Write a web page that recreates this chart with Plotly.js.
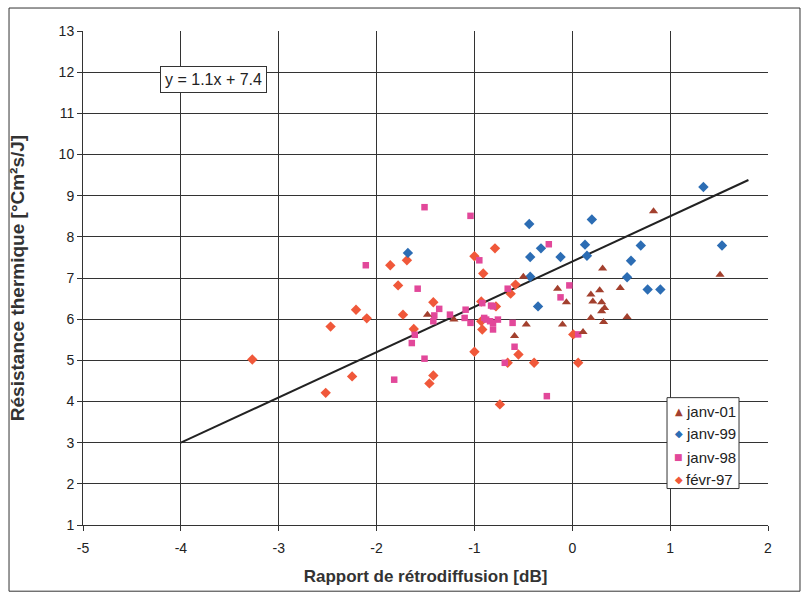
<!DOCTYPE html>
<html><head><meta charset="utf-8">
<script src="https://cdn.plot.ly/plotly-3.0.1.min.js"></script>
<style>html,body{margin:0;padding:0;background:#fff}#chart{width:807px;height:603px}</style>
</head><body><div id="chart"></div>
<script>
// janv-01 (triangles)
const j01X = [-1.48,-0.50,-0.15,-0.06,0.19,0.28,0.31,0.49,0.21,0.30,0.33,0.30,0.19,0.32,0.56,-0.47,-0.10,0.11,-0.59,0.83,1.51,-1.21];
const j01Y = [6.11,7.03,6.74,6.41,6.60,6.70,7.23,6.76,6.43,6.41,6.27,6.19,6.03,5.93,6.05,5.87,5.87,5.69,5.59,8.62,7.08,5.99];
// janv-99 (blue diamonds)
const j99X = [-1.68,-0.44,0.20,-0.32,-0.43,-0.12,0.13,0.15,-0.43,-0.35,1.34,0.70,1.53,0.60,0.56,0.77,0.90];
const j99Y = [7.61,8.31,8.42,7.72,7.51,7.51,7.81,7.54,7.03,6.31,9.21,7.79,7.79,7.42,7.02,6.72,6.72];
// janv-98 (pink squares)
const j98X = [-2.11,-1.51,-1.04,-0.95,-1.58,-1.36,-1.41,-1.42,-1.25,-1.09,-1.10,-1.04,-0.90,-0.84,-0.81,-0.81,-0.76,-0.88,-0.81,-1.61,-1.64,-1.51,-1.82,-0.24,-0.66,-0.03,-0.12,-0.92,-0.61,-0.59,0.06,-0.69,-0.26,-0.83];
const j98Y = [7.31,8.72,8.51,7.43,6.74,6.25,6.09,5.95,6.11,6.23,6.03,5.91,6.03,5.95,6.31,5.75,5.99,5.99,5.91,5.62,5.42,5.04,4.53,7.82,6.74,6.82,6.53,6.39,5.91,5.33,5.63,4.94,4.13,6.33];
// févr-97 (orange diamonds)
const f97X = [-2.21,-2.10,-2.47,-3.27,-2.25,-2.52,-1.69,-1.86,-1.00,-0.91,-1.78,-1.42,-1.73,-1.62,-1.00,-1.42,-1.46,-0.79,-0.93,-0.93,-0.92,-0.78,-0.58,-0.63,-0.55,0.01,-0.66,-0.39,0.06,-0.74];
const f97Y = [6.23,6.02,5.82,5.02,4.61,4.21,7.43,7.31,7.53,7.11,6.82,6.41,6.11,5.76,5.21,4.63,4.44,7.72,6.43,5.95,5.75,6.31,6.84,6.62,5.14,5.63,4.94,4.94,4.94,3.93];
// trend line y = 1.1x + 7.4
const trendSlope = 1.1, trendIntercept = 7.4;
const trendX = [-4, 1.8];
const trendY = trendX.map(x => trendSlope * x + trendIntercept);
const xTicks = [-5,-4,-3,-2,-1,0,1,2];
const yTicks = [1,2,3,4,5,6,7,8,9,10,11,12,13];
// legend (top to bottom)
const seriesNames = ['janv-01', 'janv-99', 'janv-98', 'févr-97'];
const seriesColors = ['#a3402e', '#2c6db4', '#e2489a', '#f0583a'];
const seriesGlyphs = ['▲', '◆', '■', '◆'];

const mk = (x, y, name, symbol, color, size) => ({
  x, y, name, type: 'scatter', mode: 'markers', showlegend: false,
  marker: {symbol, color, size, line: {width: 0}}
});
const traces = [
  {x: trendX, y: trendY, type: 'scatter', mode: 'lines', line: {color: '#222', width: 2}, showlegend: false, hoverinfo: 'skip'},
  mk(f97X, f97Y, seriesNames[3], 'diamond', seriesColors[3], 8),
  mk(j98X, j98Y, seriesNames[2], 'square', seriesColors[2], 6.5),
  mk(j99X, j99Y, seriesNames[1], 'diamond', seriesColors[1], 8),
  mk(j01X, j01Y, seriesNames[0], 'triangle-up', seriesColors[0], 8),
];
const tickFont = {family: 'Liberation Sans Narrow, Arial Narrow, Liberation Sans, Arial', size: 14, color: '#222'};
const titleFont = (s) => ({family: 'Liberation Sans, Arial', size: s, color: '#333', weight: 'bold'});

// legend box geometry (paper coords)
const legX0 = 0.8526, legX1 = 0.9577, legY0 = 0.0738, legY1 = 0.2578;
const legRows = [0.2305, 0.1856, 0.1370, 0.0911];
const legendAnn = [];
seriesNames.forEach((n, i) => {
  legendAnn.push({x: 0.8698, y: legRows[i], xref: 'paper', yref: 'paper', text: seriesGlyphs[i], showarrow: false,
    xanchor: 'center', yanchor: 'middle', font: {family: 'DejaVu Sans', size: i === 2 ? 9 : 10, color: seriesColors[i]}});
  legendAnn.push({x: 0.8774, y: legRows[i], xref: 'paper', yref: 'paper', text: n, showarrow: false,
    xanchor: 'left', yanchor: 'middle', font: {family: 'Liberation Sans, Arial', size: 15, color: '#222'}});
});

const layout = {
  width: 807, height: 603,
  margin: {l: 83, r: 39, t: 31, b: 78},
  paper_bgcolor: '#fff', plot_bgcolor: '#fff',
  showlegend: false,
  xaxis: {
    range: [-5, 2], tickvals: xTicks, ticktext: xTicks.map(String),
    showgrid: true, gridcolor: '#333', gridwidth: 1,
    zeroline: false, showline: true, linecolor: '#333', linewidth: 1, mirror: false,
    ticks: 'outside', ticklen: 5, tickcolor: '#333', tickfont: tickFont, ticklabelstandoff: 5,
    title: {text: 'Rapport de rétrodiffusion [dB]', font: titleFont(17), standoff: 15}
  },
  yaxis: {
    range: [1, 13], tickvals: yTicks, ticktext: yTicks.map(String),
    showgrid: true, gridcolor: '#333', gridwidth: 1,
    zeroline: false, showline: true, linecolor: '#333', linewidth: 1,
    ticks: 'outside', ticklen: 5, tickcolor: '#333', tickfont: tickFont,
    title: {text: 'Résistance thermique [°Cm²s/J]', font: titleFont(19), standoff: 28}
  },
  shapes: [
    {type: 'rect', xref: 'paper', yref: 'paper', x0: -0.108, x1: 1.0467, y0: -0.134, y1: 1.0465, line: {color: '#333', width: 1}, layer: 'below'},
    {type: 'rect', xref: 'paper', yref: 'paper', x0: legX0, x1: legX1, y0: legY0, y1: legY1, line: {color: '#333', width: 1}, fillcolor: '#fff', layer: 'above'}
  ],
  annotations: [
    {x: -3.67, y: 11.83, xref: 'x', yref: 'y', text: 'y = 1.1x + 7.4', showarrow: false,
     font: {family: 'Liberation Sans, Arial', size: 16, color: '#222'}, bgcolor: '#fff', bordercolor: '#333', borderwidth: 1, borderpad: 4}
  ].concat(legendAnn)
};
Plotly.newPlot('chart', traces, layout, {displayModeBar: false, staticPlot: true});
</script></body></html>
